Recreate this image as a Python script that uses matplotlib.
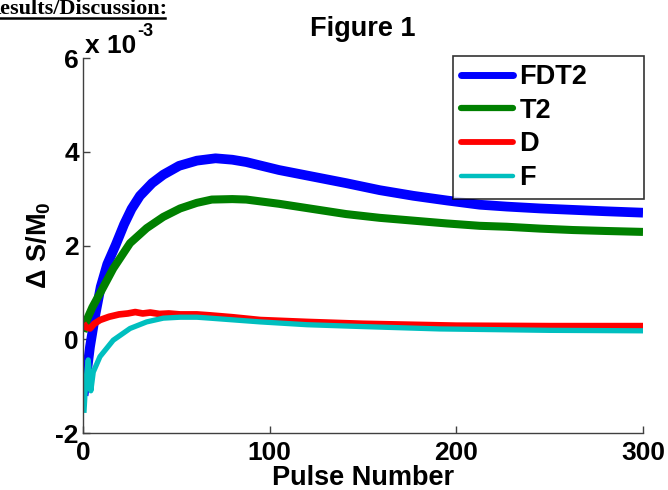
import matplotlib
matplotlib.use("Agg")
import matplotlib.pyplot as plt
from matplotlib.lines import Line2D

plt.rcParams['font.family'] = ['Liberation Sans', 'DejaVu Sans']
plt.rcParams['font.weight'] = 'bold'
plt.rcParams['axes.unicode_minus'] = False
plt.rcParams['mathtext.fontset'] = 'custom'
plt.rcParams['mathtext.rm'] = 'Liberation Sans:bold'
plt.rcParams['mathtext.bf'] = 'Liberation Sans:bold'
plt.rcParams['mathtext.it'] = 'Liberation Sans:bold'

# values in units of 1e-3
fdt2_x = [0.3, 2, 3.75, 6.4, 9.5, 13, 17.5, 22, 26, 30.5, 37, 43, 51.5, 61, 71, 80,
          87.5, 105, 123, 141, 159, 177, 195, 212.5, 227, 245, 262.5, 280, 300]
fdt2_y = [-1.2, -0.72, -0.16, 0.48, 1.12, 1.6, 2.01, 2.45, 2.78, 3.06, 3.33, 3.51, 3.70, 3.81, 3.86, 3.83,
          3.78, 3.61, 3.47, 3.33, 3.18, 3.06, 2.96, 2.87, 2.83, 2.79, 2.76, 2.73, 2.70]

t2_x = [0.2, 2, 5, 9.1, 16.2, 25.2, 34.1, 43, 52, 61, 69, 80, 87.5, 105, 123, 141,
        159, 177, 195, 212.5, 227, 245, 262.5, 280, 300]
t2_y = [0.16, 0.41, 0.68, 0.98, 1.51, 2.05, 2.37, 2.61, 2.79, 2.91, 2.98, 2.99, 2.98, 2.89, 2.78, 2.67,
        2.59, 2.53, 2.47, 2.42, 2.40, 2.36, 2.33, 2.31, 2.29]

d_x = [0.2, 1.5, 3.75, 6, 9.1, 14, 19.3, 24, 28, 32, 36, 41, 46, 52, 61, 68, 80, 95,
       120, 150, 175, 200, 250, 300]
d_y = [0.34, 0.26, 0.23, 0.33, 0.41, 0.48, 0.53, 0.55, 0.58, 0.55, 0.57, 0.54, 0.55, 0.53, 0.53, 0.51, 0.47, 0.41,
       0.37, 0.33, 0.31, 0.29, 0.28, 0.28]

f_x = [0.5, 1.1, 2, 2.8, 4.2, 5.5, 9.1, 16.2, 25.2, 34.1, 43, 52, 61, 68, 95,
       120, 150, 191, 250, 300]
f_y = [-1.57, -1.15, -0.73, -0.44, -1.1, -0.7, -0.37, -0.02, 0.23, 0.37, 0.45, 0.47, 0.47, 0.45, 0.37,
       0.31, 0.27, 0.22, 0.19, 0.18]

series = [
    ('FDT2', fdt2_x, fdt2_y, '#0000ff', 7.0, 5.0),
    ('T2', t2_x, t2_y, '#008000', 5.8, 4.5),
    ('D', d_x, d_y, '#ff0000', 4.8, 4.2),
    ('F', f_x, f_y, '#00bfbf', 3.8, 3.2),
]

fig = plt.figure(figsize=(6.68, 4.9), dpi=100)
W, H = 668, 490
ax = fig.add_axes([83 / W, 1 - 433 / H, 560 / W, 375 / H])

for name, xs, ys, col, lw, _ in series:
    ax.plot(xs, ys, color=col, lw=lw, label=name, solid_capstyle='butt', solid_joinstyle='round')

ax.set_xlim(0, 300)
ax.set_ylim(-2, 6)
ax.set_xticks([0, 100, 200, 300])
ax.set_yticks([-2, 0, 2, 4, 6])

for s in ['top', 'right']:
    ax.spines[s].set_visible(False)
for s in ['left', 'bottom']:
    ax.spines[s].set_color('#404040')
    ax.spines[s].set_linewidth(1.0)
ax.tick_params(direction='in', length=5, width=1, colors='#404040', labelcolor='black',
               labelsize=19)
ax.tick_params(axis='x', pad=6)
ax.tick_params(axis='y', pad=3)
for lab in ax.get_xticklabels() + ax.get_yticklabels():
    lab.set_fontweight('bold')

ax.set_xlabel('Pulse Number', fontsize=19.5, fontweight='bold', labelpad=0)
ax.set_ylabel(r'$\Delta\ S/M_0$', fontsize=19.5, labelpad=2)
ax.set_title('Figure 1', fontsize=19.5, fontweight='bold', pad=16)

leg = ax.legend(loc='upper right', bbox_to_anchor=(0.661, 0, 0.341, 1.005), mode='expand',
                borderaxespad=0, fontsize=19.5, frameon=True, fancybox=False,
                handlelength=1.9, handletextpad=0.25, labelspacing=0.28, borderpad=0.3)
leg.get_frame().set_edgecolor('black')
leg.get_frame().set_linewidth(1.2)
for line, s in zip(leg.get_lines(), series):
    line.set_linewidth(s[5])
    line.set_solid_capstyle('round')

# MATLAB-like exponent label
fig.text(85 / W, 1 - 53 / H, 'x 10', fontsize=19, fontweight='bold', va='baseline', ha='left')
fig.text(137 / W, 1 - 36 / H, '-3', fontsize=13, fontweight='bold', va='baseline', ha='left')

# document heading cut off at the top
fig.text(-15 / W, 1 - 14 / H, 'Results/Discussion:', fontsize=16, fontweight='bold',
         family='Liberation Serif', va='baseline', ha='left')
fig.add_artist(Line2D([0, 165 / W], [1 - 18 / H, 1 - 18 / H], color='black', lw=1.8,
                      transform=fig.transFigure))

fig.savefig('out.png', dpi=100)
